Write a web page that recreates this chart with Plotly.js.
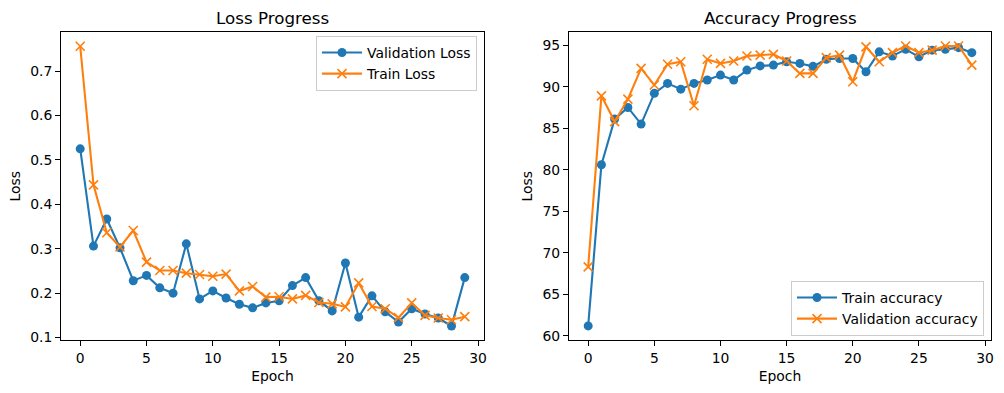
<!DOCTYPE html>
<html>
<head>
<meta charset="utf-8">
<script src="https://cdn.plot.ly/plotly-3.0.1.min.js"></script>
<style>html,body{margin:0;padding:0;background:#fff;}#chart{width:1004px;height:393px;}</style>
</head>
<body>
<div id="chart"></div>
<script>
const epochs = Array.from({length: 30}, (_, i) => i);
const valLoss = [0.525, 0.306, 0.367, 0.302, 0.228, 0.240, 0.212, 0.200, 0.311, 0.187,
                 0.205, 0.189, 0.175, 0.167, 0.178, 0.183, 0.217, 0.235, 0.183, 0.160,
                 0.268, 0.146, 0.194, 0.158, 0.135, 0.165, 0.153, 0.144, 0.126, 0.235];
const trainLoss = [0.756, 0.444, 0.336, 0.304, 0.341, 0.270, 0.251, 0.251, 0.245, 0.242,
                   0.238, 0.243, 0.205, 0.215, 0.191, 0.192, 0.187, 0.195, 0.179, 0.176,
                   0.169, 0.223, 0.170, 0.165, 0.145, 0.178, 0.150, 0.144, 0.140, 0.147];
const trainAcc = [61.2, 80.6, 86.1, 87.5, 85.5, 89.2, 90.4, 89.7, 90.4, 90.8,
                  91.4, 90.8, 92.0, 92.5, 92.6, 93.0, 92.8, 92.45, 93.3, 93.4,
                  93.4, 91.8, 94.2, 93.7, 94.5, 93.6, 94.4, 94.5, 94.7, 94.1];
const valAcc = [68.3, 88.9, 85.8, 88.5, 92.2, 90.2, 92.7, 93.0, 87.7, 93.3,
                92.8, 93.1, 93.7, 93.8, 93.9, 93.1, 91.6, 91.6, 93.5, 93.8,
                90.6, 94.8, 93.0, 94.1, 94.9, 94.1, 94.4, 94.9, 94.9, 92.6];

const blue = '#1f77b4', orange = '#ff7f0e';
const font = {family: 'DejaVu Sans', size: 13.9, color: '#000'};

function circ(name, y, xa, ya, legend) {
  return {x: epochs, y: y, name: name, type: 'scatter', mode: 'lines+markers',
    xaxis: xa, yaxis: ya, legend: legend,
    line: {color: blue, width: 2.1}, marker: {symbol: 'circle', size: 9, color: blue}};
}
function cross(name, y, xa, ya, legend) {
  return {x: epochs, y: y, name: name, type: 'scatter', mode: 'lines+markers',
    xaxis: xa, yaxis: ya, legend: legend,
    line: {color: orange, width: 2.1},
    marker: {symbol: 'x-thin', size: 9, color: orange, line: {color: orange, width: 1.6}}};
}

const data = [
  circ('Validation Loss', valLoss, 'x', 'y', 'legend'),
  cross('Train Loss', trainLoss, 'x', 'y', 'legend'),
  circ('Train accuracy', trainAcc, 'x2', 'y2', 'legend2'),
  cross('Validation accuracy', valAcc, 'x2', 'y2', 'legend2')
];

const axBase = {showgrid: false, zeroline: false, showline: true, mirror: true,
  linecolor: '#000', linewidth: 1, ticks: 'outside', ticklen: 5, tickwidth: 1,
  tickcolor: '#000', tickfont: font};

const yd = [53/393, 360.7/393];
const layout = {
  width: 1004, height: 393,
  margin: {l: 0, r: 0, t: 0, b: 0},
  paper_bgcolor: '#fff', plot_bgcolor: '#fff',
  font: font,
  showlegend: true,
  xaxis: Object.assign({}, axBase, {domain: [61/1004, 484/1004], range: [-1.45, 30.45],
    tickvals: [0, 5, 10, 15, 20, 25, 30], anchor: 'y',
    title: {text: 'Epoch', font: font, standoff: 6}}),
  yaxis: Object.assign({}, axBase, {domain: yd, range: [0.0945, 0.7875],
    tickvals: [0.1, 0.2, 0.3, 0.4, 0.5, 0.6, 0.7], anchor: 'x',
    title: {text: 'Loss', font: font, standoff: 6}}),
  xaxis2: Object.assign({}, axBase, {domain: [569/1004, 991/1004], range: [-1.45, 30.45],
    tickvals: [0, 5, 10, 15, 20, 25, 30], anchor: 'y2',
    title: {text: 'Epoch', font: font, standoff: 6}}),
  yaxis2: Object.assign({}, axBase, {domain: yd, range: [59.5, 96.55],
    tickvals: [60, 65, 70, 75, 80, 85, 90, 95], anchor: 'x2',
    title: {text: 'Loss', font: font, standoff: 6}}),
  legend: {x: 477/1004, xanchor: 'right', y: (393-36)/393, yanchor: 'top',
    bgcolor: 'rgba(255,255,255,0.8)', bordercolor: '#cccccc', borderwidth: 1,
    font: font, tracegroupgap: 0, itemwidth: 40},
  legend2: {x: 984/1004, xanchor: 'right', y: (393-336)/393, yanchor: 'bottom',
    bgcolor: 'rgba(255,255,255,0.8)', bordercolor: '#cccccc', borderwidth: 1,
    font: font, tracegroupgap: 0, itemwidth: 40},
  annotations: [
    {text: 'Loss Progress', xref: 'paper', yref: 'paper', x: (61+484)/2/1004, y: (393-18)/393,
     xanchor: 'center', yanchor: 'middle', showarrow: false, font: {family: 'DejaVu Sans', size: 16.7, color: '#000'}},
    {text: 'Accuracy Progress', xref: 'paper', yref: 'paper', x: (569+991)/2/1004, y: (393-18)/393,
     xanchor: 'center', yanchor: 'middle', showarrow: false, font: {family: 'DejaVu Sans', size: 16.7, color: '#000'}}
  ]
};

Plotly.newPlot('chart', data, layout, {staticPlot: true, displayModeBar: false});
</script>
</body>
</html>
